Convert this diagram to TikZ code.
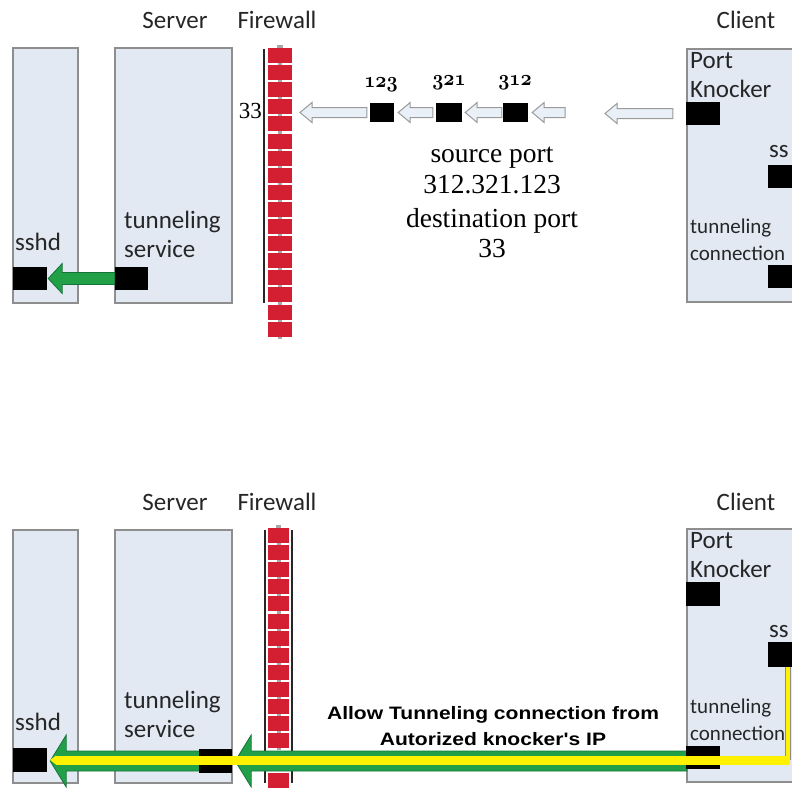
\documentclass[tikz,border=0pt]{standalone}
\usepackage{fontspec}
\newfontfamily\calfont{Carlito}
\newfontfamily\serfont{Liberation Serif}
\newfontfamily\arfont{Liberation Sans}
\font\osnum=cmmib10 at 22pt
\usetikzlibrary{calc,fit}

\definecolor{boxfill}{HTML}{E3E9F3}
\definecolor{boxline}{HTML}{8E8E8E}
\definecolor{brick}{HTML}{D41E32}
\definecolor{mortar}{HTML}{A8A8A8}
\definecolor{gfill}{HTML}{22A048}
\definecolor{gline}{HTML}{13733A}
\definecolor{hfill}{HTML}{E9F0F8}
\definecolor{hline}{HTML}{9A9A9A}
\definecolor{ylw}{HTML}{FFF200}
\definecolor{txt}{HTML}{262626}

\tikzset{
  panel/.style={draw=boxline, fill=boxfill, line width=1.3pt, inner sep=0pt},
  port/.style={fill=black, inner sep=0pt},
  lbl/.style={font=\calfont\fontsize{25}{25}\selectfont, text=txt, inner sep=0pt, anchor=base},
  lbll/.style={lbl, anchor=base west},
  small/.style={lbll, font=\calfont\fontsize{21}{21}\selectfont},
  info/.style={font=\serfont\fontsize{27.5}{27.5}\selectfont, inner sep=0pt, anchor=base},
  knum/.style={font=\osnum, inner sep=0pt, anchor=base, xscale=0.88},
  allow/.style={font=\arfont\bfseries\fontsize{18}{18}\selectfont, inner sep=0pt, anchor=base, xscale=1.17},
  % horizontal block arrow from the start point (tail) to the target (tip)
  % #1 half body width, #2 half head width, #3 head length
  blockarrow/.style n args={3}{to path={let \p1=(\tikztostart), \p2=(\tikztotarget) in
      -- (\x1,\y1+#1) -- (\x2+#3,\y1+#1) -- (\x2+#3,\y1+#2) -- (\x2,\y1)
      -- (\x2+#3,\y1-#2) -- (\x2+#3,\y1-#1) -- (\x1,\y1-#1) -- cycle}},
  knock/.style={draw=hline, fill=hfill, line width=1pt, blockarrow={5pt}{10pt}{12pt}},
  tunnel/.style={draw=gline, fill=gfill, line width=0.8pt, blockarrow={6pt}{15pt}{14pt}},
  tunnelwide/.style={draw=gline, fill=gfill, line width=0.8pt, blockarrow={10pt}{26pt}{16pt}},
}

\begin{document}
\begin{tikzpicture}[x=1pt,y=-1pt]
\useasboundingbox (0,0) rectangle (792,787);
\clip (0,0) rectangle (792,787);
\fill[white] (0,0) rectangle (792,787);

% ================= knocking phase =================
\node[panel, fit={(13,48) (78,303)}] (sshdHostA) {};
\node[panel, fit={(115,48) (232,303)}] (serverA) {};
\node[panel, fit={(687,49) (800,302)}] (clientA) {};

\node[lbl] (serverLblA) at (175,28) {Server};
\node[lbl] (fwLblA) at (277,28) {Firewall};
\node[lbl] (clientLblA) at (746,28) {Client};

% firewall
\draw[line width=1.2pt, black!85] (264,49) -- (264,303);
\fill[mortar] (277,45) rectangle (283,48);
\foreach \k in {0,...,16}{
  \fill[brick] (268,{48+17.1*\k}) rectangle (292,{48+17.1*\k+15});
  \fill[mortar] (278,{48+17.1*\k+15}) rectangle (282,{48+17.1*\k+17.1});
}
\node[font=\serfont\fontsize{23}{23}\selectfont, inner sep=0pt, anchor=base east] (port33) at (262,118) {33};

% knock ports
\node[port, fit={(370,103) (394,122)}] (k123) {};
\node[port, fit={(436,103) (462,122)}] (k321) {};
\node[port, fit={(503,103) (528,122)}] (k312) {};
\node[knum] (n123) at (381,87) {123};
\node[knum] (n321) at (449,85) {321};
\node[knum] (n312) at (515,85) {312};

\node[port, fit={(686,102) (720,125)}] (pkA) {};
\node[port, fit={(768,165) (800,188)}] (sshA) {};
\node[port, fit={(768,265) (800,288)}] (tcA) {};

\coordinate (knockTip) at (300,112.5);
\coordinate (knockTail) at (565,112.5);
\coordinate (clientTip) at (605,112.5);

\draw[knock] ([xshift=-3pt]k123.west) to (knockTip);
\draw[knock] ([xshift=-3pt]k321.west) to ([xshift=4pt]k123.east);
\draw[knock] ([xshift=-1pt]k312.west) to ([xshift=3pt]k321.east);
\draw[knock] (knockTail) to ([xshift=4pt]k312.east);
\draw[knock] ([xshift=-13pt]pkA.west) to (clientTip);

\node[info] (info1) at (492,162) {source port};
\node[info] (info2) at (492,193) {312.321.123};
\node[info] (info3) at (492,227) {destination port};
\node[info] (info4) at (492,257) {33};

% server side
\node[port, fit={(13,267) (47,290)}] (sshdA) {};
\node[port, fit={(115,267) (148,290)}] (tsA) {};
\draw[tunnel] (tsA.west) to ([xshift=1pt]sshdA.east);

\node[lbll] (sshdLblA) at (15,250) {sshd};
\node[lbll] (tsLblA1) at (124,228) {tunneling};
\node[lbll] (tsLblA2) at (124,257) {service};
\node[lbll] (pkLblA1) at (690,68) {Port};
\node[lbll] (pkLblA2) at (690,97) {Knocker};
\node[lbll] (sshLblA) at (769,157) {ss};
\node[small] (tcLblA1) at (690,233) {tunneling};
\node[small] (tcLblA2) at (690,260) {connection};

% ================= tunnel phase =================
\node[panel, fit={(13,530) (78,783)}] (sshdHostB) {};
\node[panel, fit={(115,530) (232,783)}] (serverB) {};
\node[panel, fit={(687,529) (800,782)}] (clientB) {};

\node[lbl] (serverLblB) at (175,510) {Server};
\node[lbl] (fwLblB) at (277,510) {Firewall};
\node[lbl] (clientLblB) at (746,510) {Client};

% firewall with the opened passage
\draw[line width=1.2pt, black!85] (265,530) -- (265,783);
\draw[line width=1.2pt, black!85] (292,530) -- (292,783);
\fill[mortar] (276,525) rectangle (281,528);
\foreach \k in {0,...,12}{
  \fill[brick] (268,{528+17.1*\k}) rectangle (289,{528+17.1*\k+15});
  \fill[mortar] (276.5,{528+17.1*\k+15}) rectangle (280.5,{528+17.1*\k+17.1});
}
\fill[brick] (268,773) rectangle (289,790);

\node[port, fit={(686,582) (720,606)}] (pkB) {};
\node[port, fit={(768,642) (800,667)}] (sshB) {};
\node[port, fit={(13,748) (47,772)}] (sshdB) {};

\coordinate (tunnelTail) at (687,761);
\node[port, fit={(199,749) (232,773)}, fill=none] (tsPos) {};
\draw[tunnelwide] (tunnelTail) to ([xshift=3pt]tsPos.east);
\draw[tunnelwide] (tsPos.center) to ([xshift=3pt]sshdB.east);

\node[port, fit={(199,749) (232,773)}] (tsB) {};
\node[port, fit={(686,746) (720,769)}] (tcB) {};

% authorised ssh traffic through the tunnel
\coordinate (yTop) at (788,667);
\coordinate (yCorner) at (788,760);
\draw[black!45, line width=5.5pt] (yTop) -- (yCorner);
\draw[ylw, line width=3.5pt] (yTop) -- ([yshift=-3pt]yCorner);
\draw[ylw, line width=9pt] ([xshift=2pt]yCorner) -- (56,760);
\fill[ylw] (56,755.5) -- (50,760) -- (56,764.5) -- cycle;

\node[lbll] (sshdLblB) at (15,730) {sshd};
\node[lbll] (tsLblB1) at (124,708) {tunneling};
\node[lbll] (tsLblB2) at (124,737) {service};
\node[lbll] (pkLblB1) at (690,548) {Port};
\node[lbll] (pkLblB2) at (690,577) {Knocker};
\node[lbll] (sshLblB) at (769,637) {ss};
\node[small] (tcLblB1) at (690,713) {tunneling};
\node[small] (tcLblB2) at (690,740) {connection};

\node[allow] (allow1) at (493,719) {Allow Tunneling connection from};
\node[allow] (allow2) at (493,745) {Autorized knocker's IP};
\end{tikzpicture}
\end{document}
